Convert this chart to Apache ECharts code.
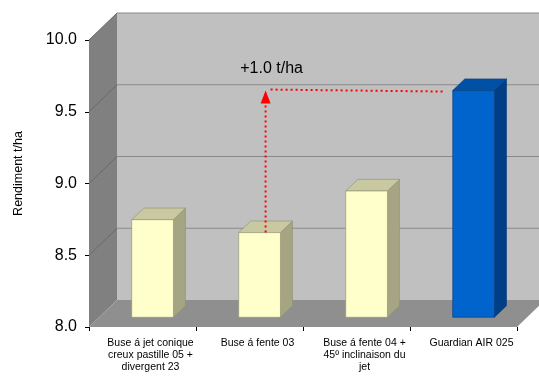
<!DOCTYPE html>
<html><head><meta charset="utf-8">
<script src="https://cdn.jsdelivr.net/npm/echarts@6/dist/echarts.min.js"></script>
<style>html,body{margin:0;padding:0;background:#fff}#c{width:539px;height:376px}</style>
</head><body><div id="c"></div>
<script>
// ---- data ----
const categories = [
  'Buse á jet conique\ncreux pastille 05 +\ndivergent 23',
  'Buse á fente 03',
  'Buse á fente 04 +\n45º inclinaison du\njet',
  'Guardian AIR 025'
];
const yields = [8.68, 8.59, 8.88, 9.58];
const yTicks = [8.0, 8.5, 9.0, 9.5, 10.0];
const annotationText = '+1.0 t/ha';
const annotationFrom = 1;
const annotationTo = 3;
const highlightIndex = 3;

// ---- styles ----
const FONT = 'Liberation Sans, Arial, sans-serif';
const DX = 28, DY = -27;          // 3D depth offset of the walls
const F0 = 0.36, F1 = 0.79;       // bar depth position (fraction of wall depth)
const BAR_FRAC = 0.39;            // bar width as fraction of band
const yellow = {front:'#ffffcc', top:'#c9c9a1', side:'#a5a584', stroke:'#8f8f70'};
const blue = {front:'#0064cc', top:'#0050a6', side:'#003f86', stroke:'#003a7a'};

const yMin = yTicks[0], yMax = yTicks[yTicks.length - 1];

function renderFrame(params, api) {
  const cs = params.coordSys;
  const x0 = cs.x, x1 = cs.x + cs.width, yT = cs.y, yB = cs.y + cs.height;
  const ch = [];
  ch.push({type:'polygon', shape:{points:[[x0+DX,yT+DY],[x1+DX,yT+DY],[x1+DX,yB+DY],[x0+DX,yB+DY]]}, style:{fill:'#c0c0c0'}});
  ch.push({type:'polygon', shape:{points:[[x0,yT],[x0+DX,yT+DY],[x0+DX,yB+DY],[x0,yB]]}, style:{fill:'#808080'}});
  ch.push({type:'polygon', shape:{points:[[x0,yB],[x0+DX,yB+DY],[x1+DX,yB+DY],[x1,yB]]}, style:{fill:'#8f8f8f'}});
  yTicks.forEach(function (v) {
    if (v === yMin) return;
    const y = api.coord([0, v])[1];
    ch.push({type:'line', shape:{x1:x0+DX, y1:y+DY, x2:x1+DX, y2:y+DY}, style:{stroke:'#8a8a8a', lineWidth:1.2}});
    ch.push({type:'line', shape:{x1:x0, y1:y, x2:x0+DX, y2:y+DY}, style:{stroke:'#6a6a6a', lineWidth:1}});
  });
  return {type:'group', children:ch};
}

function renderBar(params, api) {
  const i = api.value(0), v = api.value(1);
  const c = api.coord([i, v]);
  const b = api.coord([i, yMin]);
  const W = api.size([1, 0])[0] * BAR_FRAC;
  const fx = c[0] + DX * F0 - W / 2;
  const fy = c[1] + DY * F0;
  const by = b[1] + DY * F0;
  const ox = DX * (F1 - F0), oy = DY * (F1 - F0);
  const col = i === highlightIndex ? blue : yellow;
  return {type:'group', children:[
    {type:'polygon', shape:{points:[[fx+W,fy],[fx+W+ox,fy+oy],[fx+W+ox,by+oy],[fx+W,by]]}, style:{fill:col.side, stroke:col.stroke, lineWidth:0.6}},
    {type:'polygon', shape:{points:[[fx,fy],[fx+ox,fy+oy],[fx+W+ox,fy+oy],[fx+W,fy]]}, style:{fill:col.top, stroke:col.stroke, lineWidth:0.6}},
    {type:'rect', shape:{x:fx, y:fy, width:W, height:by-fy}, style:{fill:col.front, stroke:col.stroke, lineWidth:0.6}}
  ]};
}

function renderAnnotation(params, api) {
  const W = api.size([1, 0])[0] * BAR_FRAC;
  const fm = (F0 + F1) / 2;
  const a = api.coord([annotationFrom, yields[annotationFrom]]);
  const t = api.coord([annotationTo, yields[annotationTo]]);
  const vx = a[0] + DX * fm;
  const vyBottom = a[1] + DY * F0;
  const hy = t[1] + DY * F0 + 1;
  const hxEnd = t[0] + DX * F0 - W / 2 - 10;
  const tipY = hy - 1;
  const red = '#ff0000';
  return {type:'group', children:[
    {type:'line', shape:{x1:vx, y1:vyBottom, x2:vx, y2:tipY + 13}, style:{stroke:red, lineWidth:2, lineDash:[2,3]}},
    {type:'polygon', shape:{points:[[vx, tipY],[vx-5, tipY+13],[vx+5, tipY+13]]}, style:{fill:red}},
    {type:'line', shape:{x1:vx + 5, y1:hy - 2, x2:hxEnd, y2:hy}, style:{stroke:red, lineWidth:2, lineDash:[2,3]}},
    {type:'text', style:{text:annotationText, x:vx + 6, y:hy - 23, align:'center', verticalAlign:'middle', fill:'#000', font:'16px ' + FONT}}
  ]};
}

const chart = echarts.init(document.getElementById('c'), null, {renderer:'canvas'});
chart.setOption({
  animation:false,
  backgroundColor:'#ffffff',
  grid:{left:89, right:22, top:40, bottom:49, containLabel:false},
  xAxis:{
    type:'category', data:categories, boundaryGap:true,
    axisLine:{show:false},
    axisTick:{show:true, length:4, inside:false, alignWithLabel:false, lineStyle:{color:'#000'}},
    axisLabel:{interval:0, margin:10, color:'#000', fontSize:10.5, lineHeight:12, fontFamily:FONT, padding:[0,0,0,16]},
    splitLine:{show:false}
  },
  yAxis:{
    type:'value', min:yMin, max:yMax, interval:0.5,
    name:'Rendiment t/ha', nameLocation:'middle', nameGap:64, nameRotate:90,
    nameTextStyle:{color:'#000', fontSize:12.5, fontFamily:FONT, padding:[0,0,0,20]},
    axisLine:{show:false},
    axisTick:{show:true, length:4, lineStyle:{color:'#000'}},
    axisLabel:{margin:12, color:'#000', fontSize:16, fontFamily:FONT, formatter:function (v) { return v.toFixed(1); }},
    splitLine:{show:false}
  },
  series:[
    {type:'custom', name:'frame', z:1, silent:true, data:[[0, yMin]], renderItem:renderFrame},
    {type:'custom', name:'Rendiment', z:2, data:yields.map(function (v, i) { return [i, v]; }), renderItem:renderBar},
    {type:'custom', name:'annotation', z:3, silent:true, data:[[annotationFrom, yields[annotationFrom]]], renderItem:renderAnnotation}
  ]
});
</script>
</body></html>
